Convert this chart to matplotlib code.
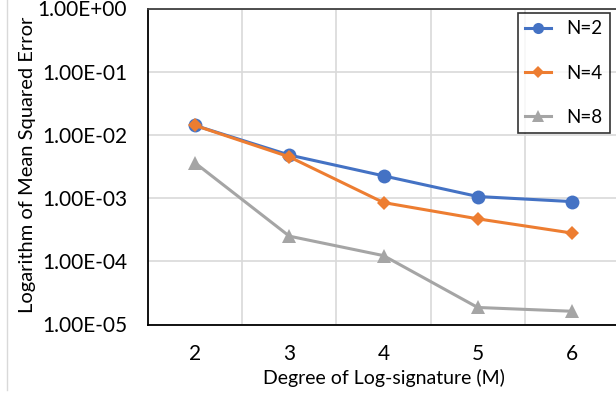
import matplotlib
matplotlib.use("Agg")
import matplotlib.pyplot as plt
from matplotlib.lines import Line2D
from matplotlib.ticker import FixedLocator

plt.rcParams['font.family'] = ['Lato', 'DejaVu Sans']

degrees = [2, 3, 4, 5, 6]
n2 = [0.0141, 0.0048, 0.00225, 0.00106, 0.00088]
n4 = [0.0141, 0.00449, 0.00085, 0.00047, 0.00028]
n8 = [0.0036, 0.00025, 0.000123, 1.86e-5, 1.62e-5]
series_labels = ["N=2", "N=4", "N=8"]
ytick_values = [1e0, 1e-1, 1e-2, 1e-3, 1e-4, 1e-5]
ytick_labels = ["1.00E+00", "1.00E-01", "1.00E-02", "1.00E-03", "1.00E-04", "1.00E-05"]

W, H = 616, 398
fig = plt.figure(figsize=(W / 100, H / 100), dpi=100)
left, right, top, bottom = 148, 619, 8.5, 324.5
ax = fig.add_axes([left / W, 1 - bottom / H, (right - left) / W, (bottom - top) / H])

ax.set_yscale('log')
ax.set_ylim(1e-5, 1e0)
ax.set_xlim(1.5, 6.5)

colors = ['#4472C4', '#ED7D31', '#A5A5A5']
markers = ['o', 'D', '^']
msizes = [10, 7.5, 10]
for vals, c, m, ms, lab in zip([n2, n4, n8], colors, markers, msizes, series_labels):
    ax.plot(degrees, vals, color=c, marker=m, markersize=ms, linewidth=2.2,
            label=lab, markeredgewidth=0, zorder=3)

ax.set_yticks(ytick_values)
ax.set_yticklabels(ytick_labels)
ax.yaxis.set_minor_locator(FixedLocator([]))
ax.set_xticks(degrees)
ax.set_xticklabels([str(d) for d in degrees])
ax.set_xticks([2.5, 3.5, 4.5, 5.5], minor=True)

ax.grid(True, which='major', axis='y', color='#D9D9D9', linewidth=1.2)
ax.grid(True, which='minor', axis='x', color='#D9D9D9', linewidth=1.2)
ax.set_axisbelow(True)

ax.tick_params(axis='both', which='both', length=0, labelsize=15, colors='black')
ax.tick_params(axis='y', pad=15)
ax.tick_params(axis='x', pad=14)

for s in ['left', 'bottom']:
    ax.spines[s].set_color('black')
    ax.spines[s].set_linewidth(1.3)
ax.spines['top'].set_color('#404040')
ax.spines['top'].set_linewidth(1.3)
ax.spines['right'].set_visible(False)

fig.text(384 / W, 1 - 378 / H, "Degree of Log-signature (M)", fontsize=14,
         ha='center', va='center')
fig.text(28 / W, 1 - 165 / H, "Logarithm of Mean Squared Error", fontsize=14.5,
         ha='center', va='center', rotation=90)

leg = fig.legend(loc='upper right', bbox_to_anchor=(610 / W, 1 - 13 / H), frameon=True,
                 fontsize=13.5, handlelength=1.4, labelspacing=1.45, borderpad=0.4,
                 handletextpad=0.8, fancybox=False, borderaxespad=0, markerscale=0.8)
leg.get_frame().set_edgecolor('black')
leg.get_frame().set_linewidth(1.2)

fig.add_artist(Line2D([7 / W, 7 / W], [1 - 390 / H, 1], color='#D9D9D9', linewidth=1,
                      transform=fig.transFigure))

fig.savefig('out.png', dpi=100)
